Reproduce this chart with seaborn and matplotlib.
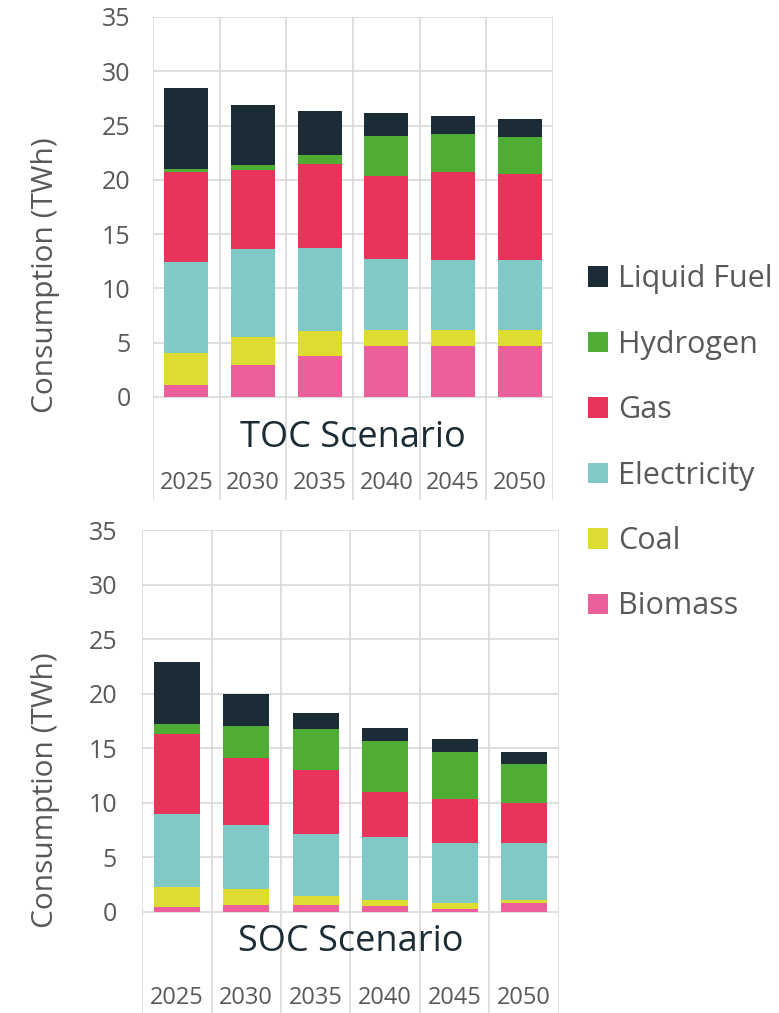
import pandas as pd
import matplotlib.pyplot as plt
import seaborn as sns
from matplotlib.patches import Patch

# 数据：各能源消费量 (TWh)
years = ['2025', '2030', '2035', '2040', '2045', '2050']
fuels = ['Liquid Fuel', 'Hydrogen', 'Gas', 'Electricity', 'Coal', 'Biomass']

toc_biomass = [1.1, 2.9, 3.8, 4.7, 4.65, 4.65]
toc_coal = [2.9, 2.6, 2.25, 1.5, 1.5, 1.5]
toc_electricity = [8.4, 8.1, 7.7, 6.5, 6.45, 6.45]
toc_gas = [8.35, 7.3, 7.7, 7.65, 8.1, 7.95]
toc_hydrogen = [0.2, 0.45, 0.85, 3.7, 3.5, 3.4]
toc_liquid = [7.5, 5.55, 4.0, 2.1, 1.65, 1.65]

soc_biomass = [0.4, 0.6, 0.6, 0.55, 0.25, 0.75]
soc_coal = [1.9, 1.5, 0.85, 0.55, 0.5, 0.3]
soc_electricity = [6.65, 5.85, 5.7, 5.75, 5.55, 5.2]
soc_gas = [7.3, 6.1, 5.85, 4.15, 4.0, 3.7]
soc_hydrogen = [0.95, 3.0, 3.75, 4.65, 4.3, 3.6]
soc_liquid = [5.65, 2.9, 1.45, 1.2, 1.2, 1.1]

colors = {
    'Liquid Fuel': '#1b2c36',
    'Hydrogen': '#4fac34',
    'Gas': '#e8345a',
    'Electricity': '#80c9c6',
    'Coal': '#dddc30',
    'Biomass': '#ec5f9a',
}

GRID = '#d9d9d9'
TEXT = '#595959'
DARK = '#1b2c36'
FONT = ['Open Sans', 'DejaVu Sans']


def make_df(biomass, coal, electricity, gas, hydrogen, liquid):
    series = {'Biomass': biomass, 'Coal': coal, 'Electricity': electricity,
              'Gas': gas, 'Hydrogen': hydrogen, 'Liquid Fuel': liquid}
    rows = []
    for fuel, vals in series.items():
        for y, v in zip(years, vals):
            rows.append({'year': y, 'fuel': fuel, 'value': v})
    return pd.DataFrame(rows)


sns.set_theme(style='white')
plt.rcParams['font.family'] = FONT

W, H = 779, 1013
fig = plt.figure(figsize=(W / 100, H / 100), dpi=100)


def px_axes(l, t, r, b):
    return fig.add_axes([l / W, 1 - b / H, (r - l) / W, (b - t) / H])


def draw_panel(ax, df, ymin, title, title_y, pad, label_x, label_y):
    sns.histplot(data=df, x='year', weights='value', hue='fuel',
                 hue_order=fuels, multiple='stack', palette=colors,
                 shrink=0.66, discrete=True, linewidth=0, alpha=1,
                 legend=False, ax=ax, zorder=3)
    ax.set_xlim(-0.5, 5.5)
    ax.set_ylim(ymin, 35)
    for s in ax.spines.values():
        s.set_visible(False)
    # 网格线
    ax.hlines(range(0, 36, 5), -0.5, 5.5, color=GRID, lw=1.2, zorder=1)
    ax.vlines([i - 0.5 for i in range(7)], ymin, 35, color=GRID, lw=1.2, zorder=1)
    ax.set_xticks([])
    ax.set_xlabel('')
    ax.set_yticks(range(0, 36, 5))
    ax.tick_params(axis='y', length=0, pad=pad, labelsize=18, labelcolor=TEXT)
    ax.set_ylabel('Consumption (TWh)', fontsize=21.5, color=TEXT)
    ax.yaxis.set_label_coords(label_x, label_y)
    for i, y in enumerate(years):
        ax.text(i, -7.9, y, ha='center', va='center', fontsize=17, color=TEXT)
    ax.text(2.5, title_y, title, ha='center', va='center', fontsize=26, color=DARK)


ax1 = px_axes(153, 17, 553, 500)
draw_panel(ax1, make_df(toc_biomass, toc_coal, toc_electricity, toc_gas, toc_hydrogen, toc_liquid),
           -9.5, 'TOC Scenario', -3.8, 16, -0.2325, 0.466)

ax2 = px_axes(142, 530, 559, 1013)
draw_panel(ax2, make_df(soc_biomass, soc_coal, soc_electricity, soc_gas, soc_hydrogen, soc_liquid),
           -9.3, 'SOC Scenario', -2.8, 18, -0.197, 0.462)

handles = [Patch(facecolor=colors[f], edgecolor='none') for f in fuels]
fig.legend(handles, fuels, loc='upper left', bbox_to_anchor=(573 / W, 1 - 249 / H),
           frameon=False, fontsize=22, labelcolor=TEXT, handlelength=0.65,
           handleheight=0.65, handletextpad=0.33, labelspacing=1.16, borderpad=0)

fig.savefig('out.png', dpi=100)
